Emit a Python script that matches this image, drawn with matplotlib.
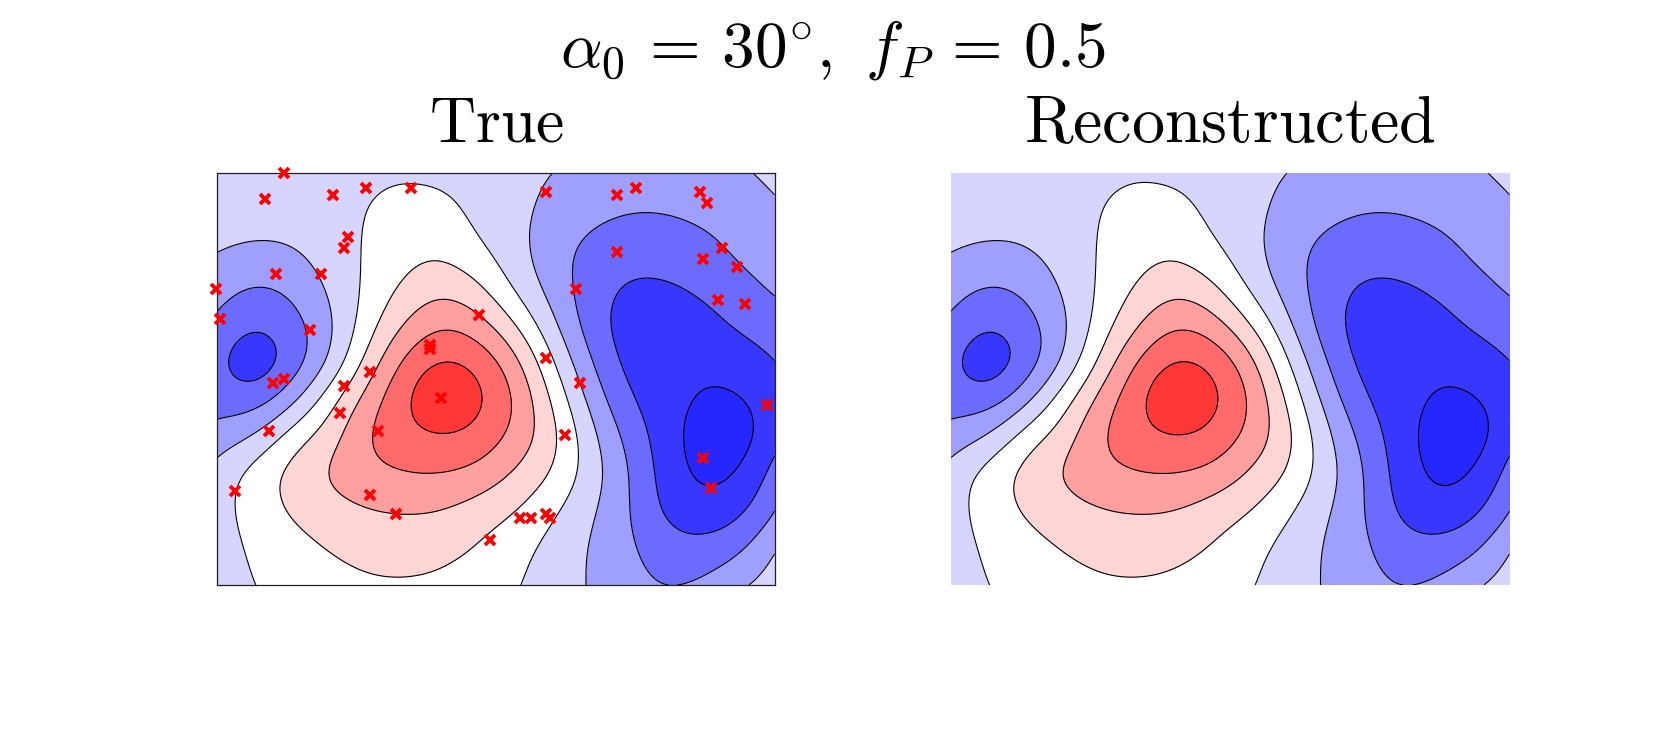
import numpy as np
import matplotlib
matplotlib.use("Agg")
import matplotlib.pyplot as plt

plt.rcParams['mathtext.fontset'] = 'cm'

W, H = 1667, 729
X0, X1, Y0, Y1 = 217.3, 774.5, 173.3, 585.0
RIGHT_X0, RIGHT_X1 = 951.0, 1509.5

# Field (rows top to bottom, columns left to right)
true_field = np.array([
 [-0.85,-0.85,-0.80,-0.75,-0.70,-0.60,-0.70,-0.85,-1.20,-1.50,-1.75,-1.95,-2.00,-1.95,-1.65,-1.30],
 [-1.10,-1.15,-1.10,-0.85,-0.50,-0.15,-0.20,-0.74,-1.23,-1.75,-2.20,-2.45,-2.45,-2.25,-2.00,-1.65],
 [-1.40,-1.58,-1.52,-1.05,-0.40, 0.10, 0.30,-0.35,-1.15,-2.08,-2.75,-3.05,-3.05,-2.85,-2.30,-1.85],
 [-2.05,-2.58,-2.25,-1.35,-0.35, 0.60, 1.20, 0.65,-0.70,-1.90,-2.98,-3.60,-3.60,-3.30,-2.85,-2.35],
 [-2.70,-3.42,-2.90,-1.75,-0.05, 1.45, 2.40, 1.90, 0.50,-1.30,-2.95,-3.95,-4.10,-3.90,-3.30,-2.90],
 [-3.35,-4.30,-3.20,-1.55, 0.70, 2.65, 3.60, 3.25, 1.85,-0.40,-2.40,-3.80,-4.15,-4.35,-4.10,-3.50],
 [-2.95,-3.15,-1.90, 0.00, 1.85, 3.35, 4.45, 3.80, 2.55, 0.40,-1.75,-3.35,-4.10,-4.55,-4.60,-4.00],
 [-2.15,-1.50,-0.05, 1.00, 2.50, 3.20, 3.50, 3.25, 2.25, 0.90,-1.10,-2.75,-3.95,-5.00,-5.10,-3.90],
 [-1.05,-0.10, 0.85, 1.65, 2.20, 2.50, 2.55, 2.25, 1.40, 0.50,-0.90,-2.35,-3.85,-4.75,-4.55,-3.15],
 [-0.85,-0.10, 0.65, 1.12, 1.45, 1.55, 1.50, 1.05, 0.55,-0.30,-1.30,-2.35,-3.65,-4.20,-3.85,-2.60],
 [-0.90,-0.35, 0.10, 0.55, 0.85, 0.95, 0.80, 0.45,-0.15,-0.80,-1.55,-2.25,-3.05,-3.20,-2.75,-1.55],
 [-0.90,-0.50,-0.20, 0.10, 0.35, 0.40, 0.30, 0.00,-0.40,-0.95,-1.55,-2.10,-2.55,-2.40,-1.70,-1.05],
])

recon_field = np.array([
 [-0.85,-0.85,-0.80,-0.75,-0.70,-0.58,-0.68,-0.85,-1.20,-1.50,-1.75,-1.95,-2.00,-1.95,-1.65,-1.30],
 [-1.10,-1.15,-1.10,-0.87,-0.52,-0.15,-0.18,-0.72,-1.22,-1.75,-2.20,-2.45,-2.45,-2.25,-2.00,-1.65],
 [-1.40,-1.58,-1.52,-1.07,-0.42, 0.08, 0.30,-0.33,-1.15,-2.08,-2.75,-3.05,-3.05,-2.85,-2.30,-1.85],
 [-2.05,-2.58,-2.25,-1.37,-0.37, 0.55, 1.20, 0.67,-0.68,-1.90,-2.98,-3.60,-3.60,-3.30,-2.85,-2.35],
 [-2.70,-3.42,-2.90,-1.75,-0.10, 1.35, 2.40, 1.93, 0.52,-1.28,-2.95,-3.95,-4.10,-3.90,-3.30,-2.90],
 [-3.35,-4.30,-3.20,-1.55, 0.65, 2.55, 3.60, 3.30, 1.90,-0.38,-2.40,-3.80,-4.15,-4.35,-4.10,-3.50],
 [-2.95,-3.15,-1.90,-0.02, 1.80, 3.30, 4.45, 3.85, 2.57, 0.42,-1.75,-3.35,-4.10,-4.55,-4.60,-4.00],
 [-2.15,-1.50,-0.05, 0.98, 2.45, 3.20, 3.55, 3.30, 2.27, 0.92,-1.10,-2.75,-3.95,-5.00,-5.10,-3.90],
 [-1.05,-0.10, 0.85, 1.65, 2.20, 2.50, 2.55, 2.27, 1.42, 0.52,-0.90,-2.35,-3.85,-4.75,-4.55,-3.15],
 [-0.85,-0.10, 0.65, 1.12, 1.45, 1.55, 1.50, 1.05, 0.55,-0.30,-1.30,-2.35,-3.65,-4.20,-3.85,-2.60],
 [-0.90,-0.35, 0.10, 0.55, 0.85, 0.95, 0.80, 0.45,-0.15,-0.80,-1.55,-2.25,-3.05,-3.20,-2.75,-1.55],
 [-0.90,-0.50,-0.20, 0.10, 0.35, 0.40, 0.30, 0.00,-0.40,-0.95,-1.55,-2.10,-2.55,-2.40,-1.70,-1.05],
])

samples_x = [284.3,265.3,333.3,366.3,411.3,348.3,344.3,276.3,321.3,216.3,220.3,310.3,430.3,430.3,
             546.3,617.3,636.3,700.3,707.3,722.3,703.3,617.3,576.3,479.3,718.3,737.3,745.3,767.3,
             703.3,711.3,370.3,344.3,340.3,441.3,378.3,269.3,273.3,284.3,235.3,370.3,396.3,
             546.3,580.3,565.3,520.3,531.3,546.3,550.3,490.3]
samples_y = [173.3,199.3,195.3,188.3,188.3,237.3,248.3,274.3,274.3,289.3,319.3,330.3,345.0,349.3,
             192.3,195.3,188.3,192.3,203.3,248.3,259.3,252.3,289.3,315.3,300.3,267.3,304.3,405.3,
             458.3,488.3,372.3,386.3,413.3,398.3,431.3,431.3,383.3,379.3,491.3,495.3,514.3,
             358.3,383.3,435.0,518.3,518.3,514.3,518.3,540.3]

LEVELS = [-5.5,-4.5,-3.5,-2.5,-1.5,-0.5,0.5,1.5,2.5,3.5,4.5]
COLORS = ['#2626ff','#3737ff','#6b6bff','#9f9fff','#d5d5ff','#ffffff',
          '#ffd5d5','#ff9f9f','#ff6b6b','#ff3737']
TITLE = r'$\alpha_0\,=\,30^{\circ},\ f_P\,=\,0.5$'
NAMES = [r'$\mathrm{True}$', r'$\mathrm{Reconstructed}$']

FACTOR = 10
SIGMA_CELLS = 0.45


def smooth_axis(a, factor, axis):
    """Catmull-Rom resampling of a gridded field, so contours render smooth."""
    a = np.moveaxis(a, axis, 0)
    n = a.shape[0]
    p = np.concatenate([[2*a[0]-a[1]], a, [2*a[-1]-a[-2]]])
    t = np.linspace(0, n-1, (n-1)*factor+1)
    i = np.minimum(t.astype(int), n-2)
    f = (t-i).reshape((-1,)+(1,)*(a.ndim-1))
    p0, p1, p2, p3 = p[i], p[i+1], p[i+2], p[i+3]
    out = 0.5*(2*p1+(p2-p0)*f+(2*p0-5*p1+4*p2-p3)*f**2+(3*p1-p0-3*p2+p3)*f**3)
    return np.moveaxis(out, 0, axis)


def blur_axis(a, sigma, axis):
    """Gaussian blur with odd reflection at the edges, to remove reading noise."""
    a = np.moveaxis(a, axis, 0)
    r = int(3*sigma)
    k = np.exp(-0.5*(np.arange(-r, r+1)/sigma)**2)
    k /= k.sum()
    head = 2*a[0]-a[1:r+1][::-1]
    tail = 2*a[-1]-a[-r-1:-1][::-1]
    p = np.concatenate([head, a, tail])
    out = np.apply_along_axis(lambda v: np.convolve(v, k, mode='valid'), 0, p)
    return np.moveaxis(out, 0, axis)


def draw_field(ax, field):
    z = smooth_axis(smooth_axis(field, FACTOR, 0), FACTOR, 1)
    z = blur_axis(blur_axis(z, SIGMA_CELLS*FACTOR, 0), SIGMA_CELLS*FACTOR, 1)
    x = np.linspace(X0, X1, z.shape[1])
    y = np.linspace(Y0, Y1, z.shape[0])
    ax.contourf(x, y, z, levels=LEVELS, colors=COLORS)
    ax.contour(x, y, z, levels=LEVELS[1:-1], colors='k', linewidths=0.8, linestyles='solid')
    ax.set_xlim(X0, X1)
    ax.set_ylim(Y1, Y0)
    ax.set_xticks([])
    ax.set_yticks([])


fig = plt.figure(figsize=(W/100, H/100), dpi=100)
ax1 = fig.add_axes([X0/W, 1-Y1/H, (X1-X0)/W, (Y1-Y0)/H])
ax2 = fig.add_axes([RIGHT_X0/W, 1-Y1/H, (RIGHT_X1-RIGHT_X0)/W, (Y1-Y0)/H])
draw_field(ax1, true_field)
draw_field(ax2, recon_field)
ax1.plot(samples_x, samples_y, ls='none', marker='x', ms=7.5, mew=2.8, color='red', clip_on=False, zorder=5)
for s in ax1.spines.values():
    s.set_linewidth(0.9)
    s.set_color('#222222')
for s in ax2.spines.values():
    s.set_visible(False)

fig.text(833/W, 1-67/H, TITLE, fontsize=47, ha='center', va='baseline')
fig.text(497/W, 1-142/H, NAMES[0], fontsize=46, ha='center', va='baseline')
fig.text(1230/W, 1-142/H, NAMES[1], fontsize=47.5, ha='center', va='baseline')
fig.savefig('out.png', dpi=100)
